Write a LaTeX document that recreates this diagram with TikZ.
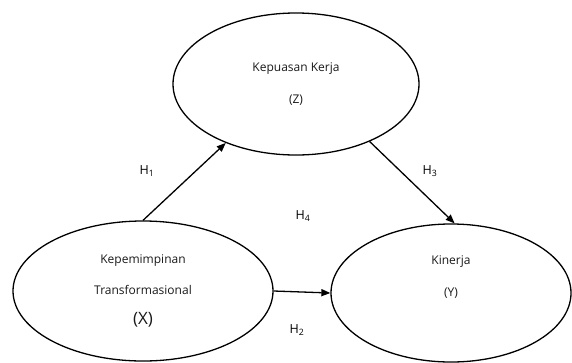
\documentclass[tikz,border=0pt]{standalone}
\usepackage{fontspec}
\setmainfont{Open Sans}
\usetikzlibrary{shapes.geometric, arrows.meta, positioning}

\begin{document}
\begin{tikzpicture}[
    x=1pt, y=-1pt,
    var/.style={ellipse, draw, line width=1.3pt, inner sep=0pt, align=center, font=\fontsize{12}{14}\selectfont, text=black!90},
    arrow/.style={-{Triangle[length=9pt,width=7pt]}, line width=1.3pt},
    hyp/.style={font=\fontsize{12.5}{14}\selectfont}
]
    \useasboundingbox (0,0) rectangle (572,362);
    % Variables
    \node[var, minimum width=246pt, minimum height=142pt] (z) at (296,84) {Kepuasan Kerja\\[18pt](Z)};
    \node[var, minimum width=260pt, minimum height=140pt] (x) at (143,291) {Kepemimpinan\\[17pt]Transformasional\\[16pt]{\fontsize{17}{20}\selectfont (X)}};
    \node[var, minimum width=240pt, minimum height=138pt] (y) at (451,293) {Kinerja\\[18pt](Y)\\[18pt]\phantom{(Y)}};

    % Hypotheses
    \draw[arrow] (x.north) -- (z.220);
    \draw[arrow] (z.-38) -- (y.87);
    \draw[arrow] (x.east) -- (y.west);

    \node[hyp] (h1) at (147,171) {H\textsubscript{1}};
    \node[hyp] (h2) at (297,330) {H\textsubscript{2}};
    \node[hyp] (h3) at (430,171) {H\textsubscript{3}};
    \node[hyp] (h4) at (303,216) {H\textsubscript{4}};
\end{tikzpicture}
\end{document}
